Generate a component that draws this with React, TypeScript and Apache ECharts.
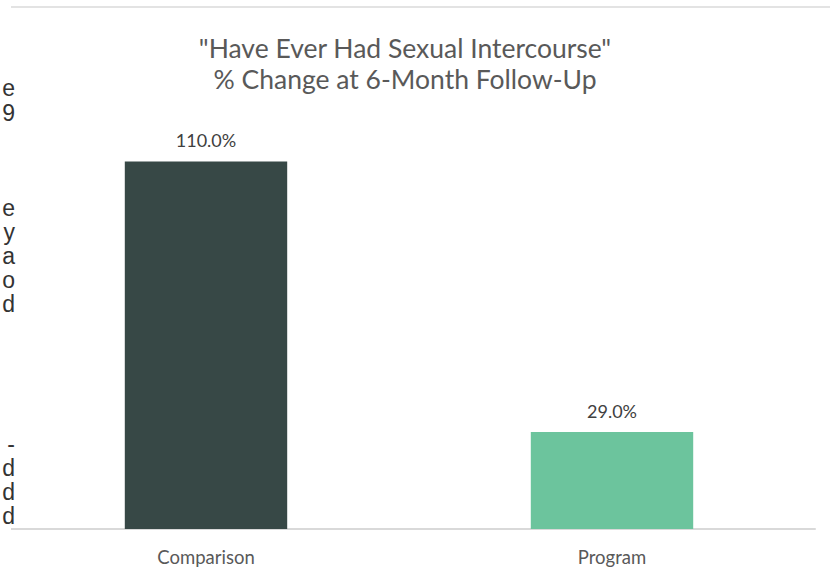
import React, { useEffect, useRef } from "react";
import * as echarts from "echarts";

const categories = ["Comparison", "Program"];
const values = [110.0, 29.0];
const barColors = ["#374846", "#6cc49d"];
const titleLines = ['"Have Ever Had Sexual Intercourse"', "% Change at 6-Month Follow-Up"];
// cropped fragments of surrounding page text on the left edge
const sideChars = ["e", "9", "e", "y", "a", "o", "d", "-", "d", "d", "d"];
const sideRows = [88, 113, 208, 232, 256, 280, 304, 444, 468, 492, 516];

export default function App() {
  const ref = useRef<HTMLDivElement>(null);
  useEffect(() => {
    const chart = echarts.init(ref.current!, null, { renderer: "svg" });
    const font = "Lato, 'Open Sans', sans-serif";
    const sideTexts = sideChars.map((c, i) => ({
      type: "text",
      x: 15,
      y: sideRows[i],
      z: 100,
      style: {
        text: c,
        fill: "#333333",
        font: "23px 'Liberation Sans', Arial, sans-serif",
        textAlign: "right",
        textVerticalAlign: "middle",
      },
    }));
    const titleTexts = titleLines.map((t, i) => ({
      type: "text",
      x: 405,
      y: i === 0 ? 48 : 79,
      z: 100,
      style: {
        text: t,
        fill: "#595959",
        font: "26.5px " + font,
        textAlign: "center",
        textVerticalAlign: "middle",
      },
    }));
    chart.setOption({
      animation: false,
      backgroundColor: "#ffffff",
      grid: { left: 3, right: 15, top: 128, bottom: 51, containLabel: false },
      xAxis: {
        type: "category",
        data: categories,
        axisLine: { lineStyle: { color: "#d9d9d9", width: 2 } },
        axisTick: { show: false },
        axisLabel: {
          color: "#595959",
          fontSize: 18.5,
          fontFamily: font,
          margin: 18,
        },
      },
      yAxis: { type: "value", min: 0, max: 120, show: false, splitLine: { show: false } },
      series: [
        {
          type: "bar",
          data: values.map((v, i) => ({ value: v, itemStyle: { color: barColors[i] } })),
          barWidth: "40%",
          label: {
            show: true,
            position: "top",
            distance: 12,
            color: "#404040",
            fontSize: 18,
            fontFamily: font,
            formatter: (p: any) => p.value.toFixed(1) + "%",
          },
        },
      ],
      graphic: [
        {
          type: "line",
          shape: { x1: 11, y1: 7, x2: 830, y2: 7 },
          style: { stroke: "#e3e3e3", lineWidth: 2 },
        },
        {
          type: "rect",
          shape: { x: 0, y: 520, width: 11, height: 20 },
          style: { fill: "#ffffff" },
          z: 50,
        },
        ...titleTexts,
        ...sideTexts,
      ],
    });
    return () => chart.dispose();
  }, []);
  return <div ref={ref} style={{ width: 830, height: 580, position: "absolute", left: 0, top: 0 }} />;
}
